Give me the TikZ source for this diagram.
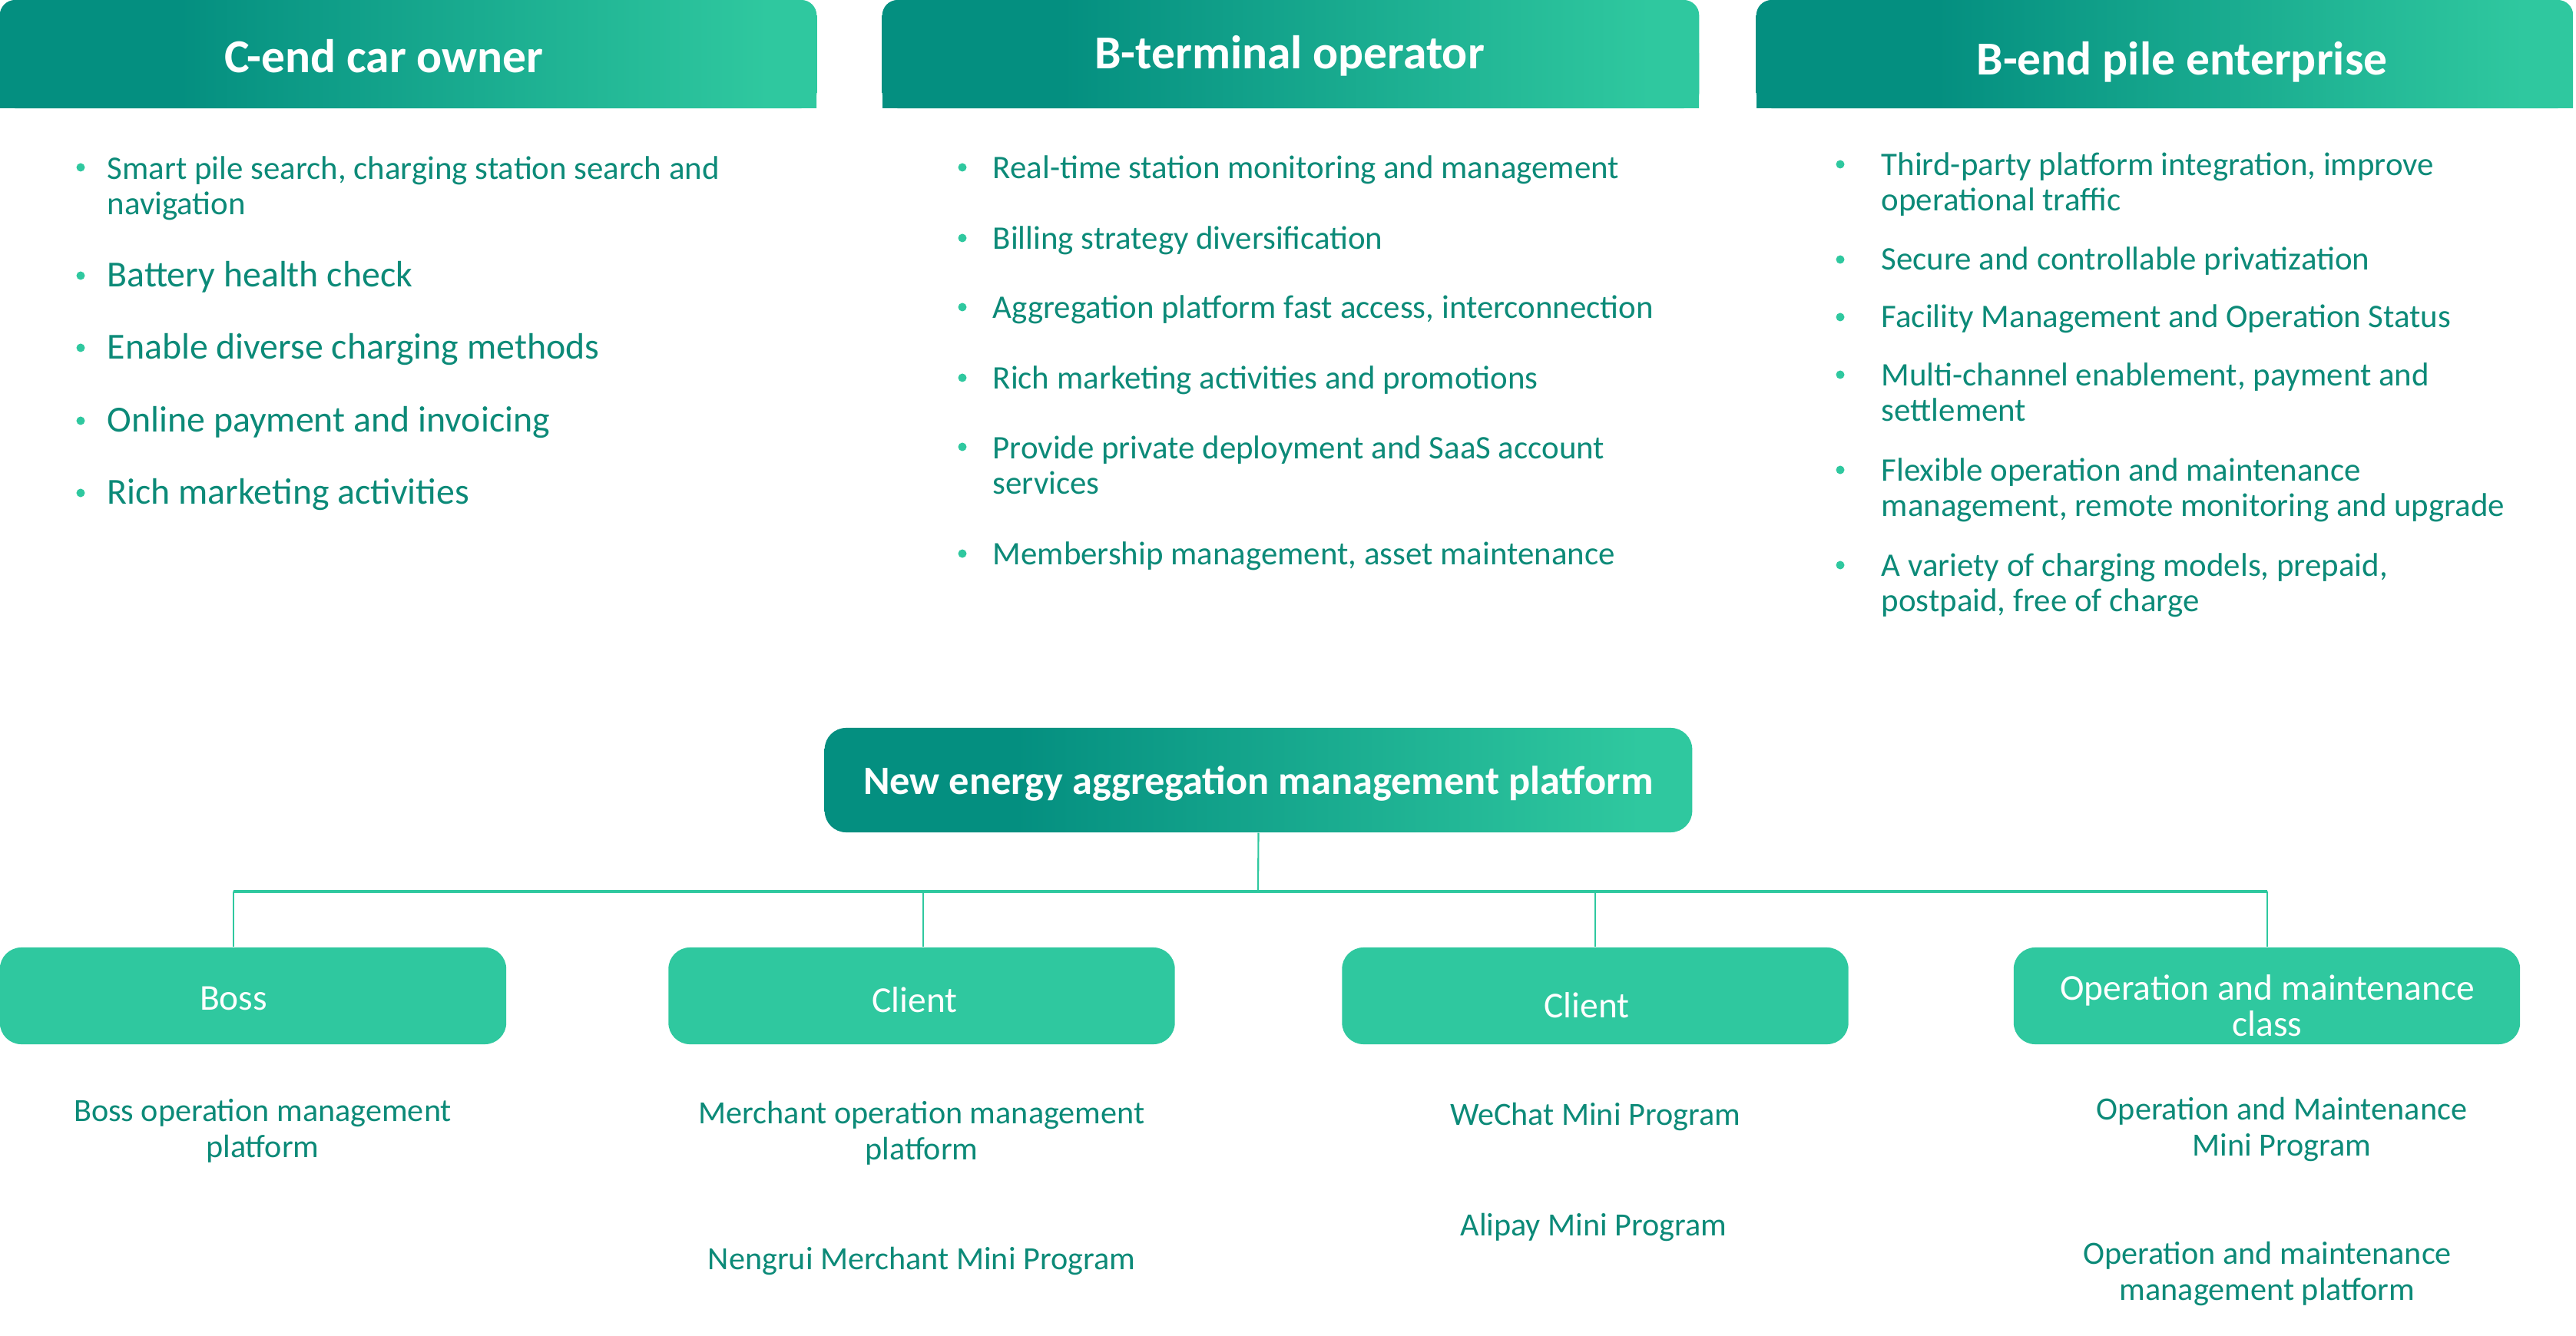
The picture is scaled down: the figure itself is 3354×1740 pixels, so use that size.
\documentclass[tikz,border=0pt]{standalone}
\usepackage{fontspec}
\setmainfont{Carlito}
\definecolor{tealD}{HTML}{048F80}
\definecolor{tealL}{HTML}{2FC89F}
\definecolor{tealT}{HTML}{0C8A78}
\pgfdeclarehorizontalshading{hdrshade}{100bp}{color(0bp)=(tealD); color(36bp)=(tealD); color(72bp)=(tealL); color(100bp)=(tealL)}
\begin{document}
\begin{tikzpicture}[x=0.01cm, y=-0.01cm,
  hdr/.style={shade, shading=hdrshade, rounded corners=0.2cm, minimum width=10.63cm, minimum height=1.41cm, inner sep=0},
  ttl/.style={text=white, font=\fontsize{17.5}{20}\selectfont\bfseries},
  item/.style={text=tealT, anchor=base west, align=left, inner xsep=0, font=\fontsize{12.2}{13.3}\selectfont},
  bigitem/.style={item, font=\fontsize{13.6}{15}\selectfont},
  dot/.style={circle, fill=tealL, inner sep=0, minimum size=0.11cm},
  role/.style={fill=tealL, rounded corners=0.28cm, minimum width=6.59cm, minimum height=1.26cm},
  rtxt/.style={text=white, align=center, font=\fontsize{13.5}{13.4}\selectfont},
  sub/.style={text=tealT, align=center, font=\fontsize{12}{13.3}\selectfont},
  conn/.style={draw=tealL, line width=0.6pt}]
\useasboundingbox (0,0) rectangle (3354,1740);

\foreach \n/\x in {cend/531.5, bterm/1680.5, bpile/2818.5}{
  \shade[shading=hdrshade] (\x-531.5,70) rectangle (\x+531.5,141);
  \node[hdr] (\n) at (\x,70.5) {};
}
\node[ttl] (cendt) at (500,73) {C-end car owner};
\node[ttl] (btermt) at (1679,73) {B-terminal operator};
\node[ttl] (bpilet) at (2841,81) {B-end pile enterprise};

\node[dot] (ca1) at (105,218) {};
\node[item] (ct1) at (139,280) {Smart pile search, charging station search and\\navigation};
\foreach \y/\t [count=\i from 2] in {359/Battery health check, 453/Enable diverse charging methods,
  548/Online payment and invoicing, 642/Rich marketing activities}
{
  \node[dot] (ca\i) at (105,\y) {};
  \node[bigitem] (ct\i) at (139,\y+15) {\t};
}

\foreach \y/\b/\t [count=\i] in {218/233/Real-time station monitoring and management, 310/325/Billing strategy diversification,
  400/415/{Aggregation platform fast access, interconnection}, 492/507/Rich marketing activities and promotions,
  582/644/{Provide private deployment and SaaS account\\services}, 721/736/{Membership management, asset maintenance}}
{
  \node[dot] (ba\i) at (1253,\y) {};
  \node[item] (bt\i) at (1292,\b) {\t};
}

\foreach \y/\b/\t [count=\i] in {214/275/{Third-party platform integration, improve\\operational traffic},
  338/352/Secure and controllable privatization, 413/427/Facility Management and Operation Status,
  488/549/{Multi-channel enablement, payment and\\settlement},
  612/673/{Flexible operation and maintenance\\management, remote monitoring and upgrade},
  736/797/{A variety of charging models, prepaid,\\postpaid, free of charge}}
{
  \node[dot] (pa\i) at (2396,\y) {};
  \node[item] (pt\i) at (2449,\b) {\t};
}

\node[shade, shading=hdrshade, rounded corners=0.28cm, minimum width=11.29cm, minimum height=1.36cm, text depth=0pt,
  text=white, font=\fontsize{14.9}{17}\selectfont\bfseries] (plat) at (1638.5,1016) {New energy aggregation management platform};

\coordinate (bus) at (1638,1161);
\draw[conn] (plat.south) -- (bus);
\foreach \n/\x/\cx/\lx/\ly/\t in {boss/329.5/304/304/1300/Boss, cli/1200/1202/1191/1302/Client,
  cliw/2077/2077/2066/1309/Client, om/2951.5/2952/2952/1310/{Operation and maintenance\\class}}
{
  \node[role] (\n) at (\x,1297) {};
  \node[rtxt] (l\n) at (\lx,\ly) {\t};
  \coordinate (k\n) at (\cx,1161);
  \draw[conn] (k\n) -- (k\n |- \n.north);
}
\draw[conn, line width=0.9pt] (kboss) -- (kom);

\node[sub] (bossp) at (342,1473) {Boss operation management\\platform};
\node[sub] (clim) at (1200,1476) {Merchant operation management\\platform};
\node[sub] (clin) at (1200,1642) {Nengrui Merchant Mini Program};
\node[sub] (cliwx) at (2077,1454) {WeChat Mini Program};
\node[sub] (cliali) at (2075,1598) {Alipay Mini Program};
\node[sub] (omm) at (2971,1471) {Operation and Maintenance\\Mini Program};
\node[sub] (omp) at (2952,1659) {Operation and maintenance\\management platform};

\end{tikzpicture}
\end{document}
